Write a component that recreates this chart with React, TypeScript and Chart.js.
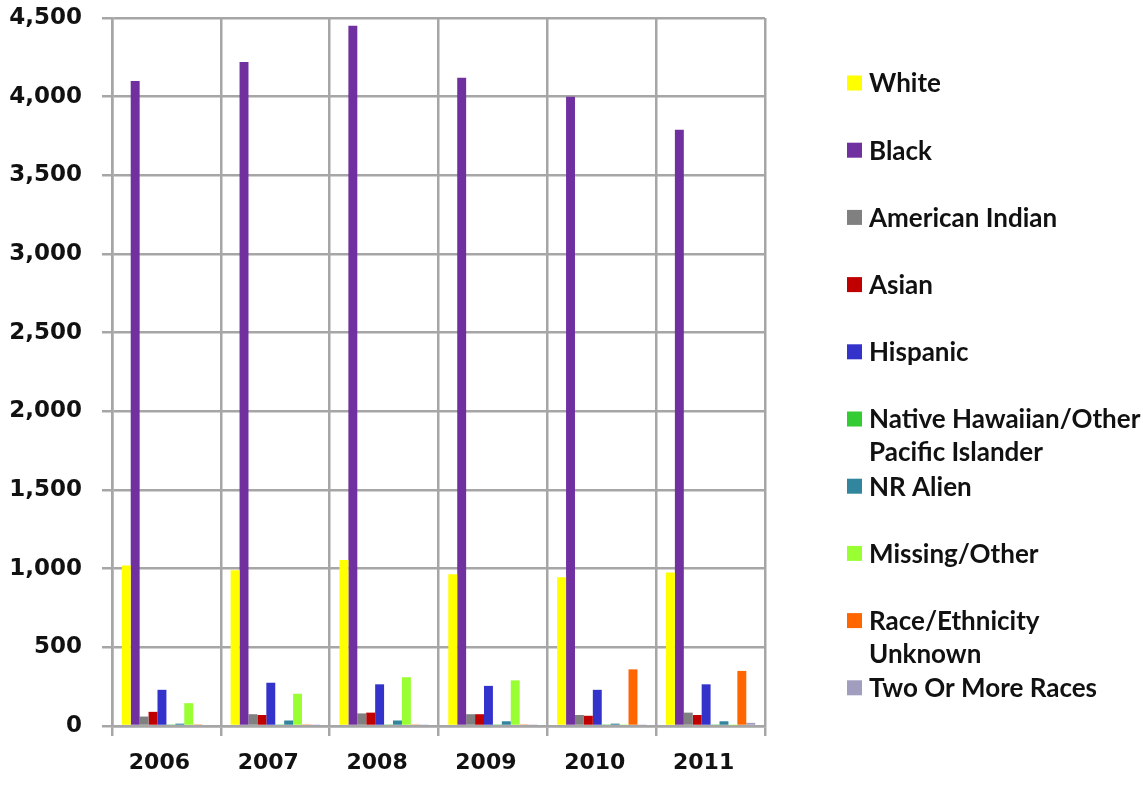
import React, { useEffect, useRef } from "react";
import { Chart, registerables } from "chart.js";

Chart.register(...registerables);

const years = ["2006", "2007", "2008", "2009", "2010", "2011"];

const seriesNames = [
  "White",
  "Black",
  "American Indian",
  "Asian",
  "Hispanic",
  "Native Hawaiian/Other Pacific Islander",
  "NR Alien",
  "Missing/Other",
  "Race/Ethnicity Unknown",
  "Two Or More Races",
];

const legendLines = [
  ["White"],
  ["Black"],
  ["American Indian"],
  ["Asian"],
  ["Hispanic"],
  ["Native Hawaiian/Other", "Pacific Islander"],
  ["NR Alien"],
  ["Missing/Other"],
  ["Race/Ethnicity", "Unknown"],
  ["Two Or More Races"],
];

const white = [1020, 990, 1055, 965, 945, 975];
const black = [4100, 4220, 4450, 4120, 4000, 3790];
const americanIndian = [60, 75, 80, 75, 70, 85];
const asian = [90, 70, 85, 75, 65, 70];
const hispanic = [230, 275, 265, 255, 230, 265];
const nativeHawaiian = [10, 10, 10, 10, 10, 10];
const nrAlien = [15, 35, 35, 30, 15, 30];
const missingOther = [145, 205, 310, 290, 10, 5];
const raceUnknown = [10, 10, 10, 10, 360, 350];
const twoOrMore = [8, 5, 5, 5, 5, 20];

const seriesValues = [
  white,
  black,
  americanIndian,
  asian,
  hispanic,
  nativeHawaiian,
  nrAlien,
  missingOther,
  raceUnknown,
  twoOrMore,
];

const seriesColors = [
  "#FFFF00",
  "#7030A0",
  "#808080",
  "#C00000",
  "#3333CC",
  "#33CC33",
  "#31859C",
  "#99FF33",
  "#FF6600",
  "#A09DBF",
];

const yTicks = [0, 500, 1000, 1500, 2000, 2500, 3000, 3500, 4000, 4500];

const legendPlugin = {
  id: "sideLegend",
  afterDraw(chart: any) {
    const ctx = chart.ctx;
    ctx.save();
    ctx.font = "bold 26px Lato";
    ctx.textBaseline = "middle";
    ctx.textAlign = "left";
    const x0 = 847;
    const y0 = 83;
    const step = 67.2;
    const lineH = 33;
    legendLines.forEach((lines, i) => {
      const y = y0 + i * step;
      ctx.fillStyle = seriesColors[i];
      ctx.fillRect(x0, y - 7.5, 15, 15);
      ctx.fillStyle = "#111111";
      lines.forEach((t, j) => {
        ctx.fillText(t, x0 + 22, y + 1 + j * lineH);
      });
    });
    ctx.restore();
  },
};

export default function App() {
  const ref = useRef<HTMLCanvasElement | null>(null);

  useEffect(() => {
    if (!ref.current) return;
    const chart = new Chart(ref.current, {
      type: "bar",
      data: {
        labels: years,
        datasets: seriesNames.map((name, i) => ({
          label: name,
          data: seriesValues[i],
          backgroundColor: seriesColors[i],
          borderWidth: 0,
          categoryPercentage: 0.82,
          barPercentage: 1.0,
        })),
      },
      options: {
        animation: false,
        responsive: true,
        maintainAspectRatio: false,
        layout: { padding: { top: 18, right: 378, left: 0, bottom: 0 } },
        plugins: {
          legend: { display: false },
          tooltip: { enabled: false },
        },
        scales: {
          x: {
            grid: {
              color: "#a6a6a6",
              lineWidth: 2.5,
              offset: true,
              drawTicks: true,
              tickLength: 10,
            },
            border: { color: "#a6a6a6", width: 2.5 },
            ticks: {
              color: "#111111",
              font: { family: "DejaVu Sans", weight: "bold", size: 22 },
              padding: 14,
              labelOffset: -7,
            },
            afterFit(scale: any) {
              scale.height = 62;
              scale.paddingLeft = 0;
              scale.paddingRight = 0;
            },
          },
          y: {
            min: 0,
            max: 4500,
            afterBuildTicks(scale: any) {
              scale.ticks = yTicks.map((v) => ({ value: v }));
            },
            grid: {
              color: "#a6a6a6",
              lineWidth: 2.5,
              tickLength: 10,
            },
            border: { color: "#a6a6a6", width: 2.5 },
            ticks: {
              color: "#111111",
              font: { family: "DejaVu Sans", weight: "bold", size: 23 },
              padding: 20,
              callback: (v: any) => Number(v).toLocaleString("en-US"),
            },
            afterFit(scale: any) {
              scale.width = 112;
              scale.paddingTop = 0;
              scale.paddingBottom = 0;
            },
          },
        },
      },
      plugins: [legendPlugin],
    });
    return () => chart.destroy();
  }, []);

  return (
    <div style={{ position: "fixed", left: 0, top: 0, width: 1143, height: 788, background: "#fff" }}>
      <canvas ref={ref} />
    </div>
  );
}
